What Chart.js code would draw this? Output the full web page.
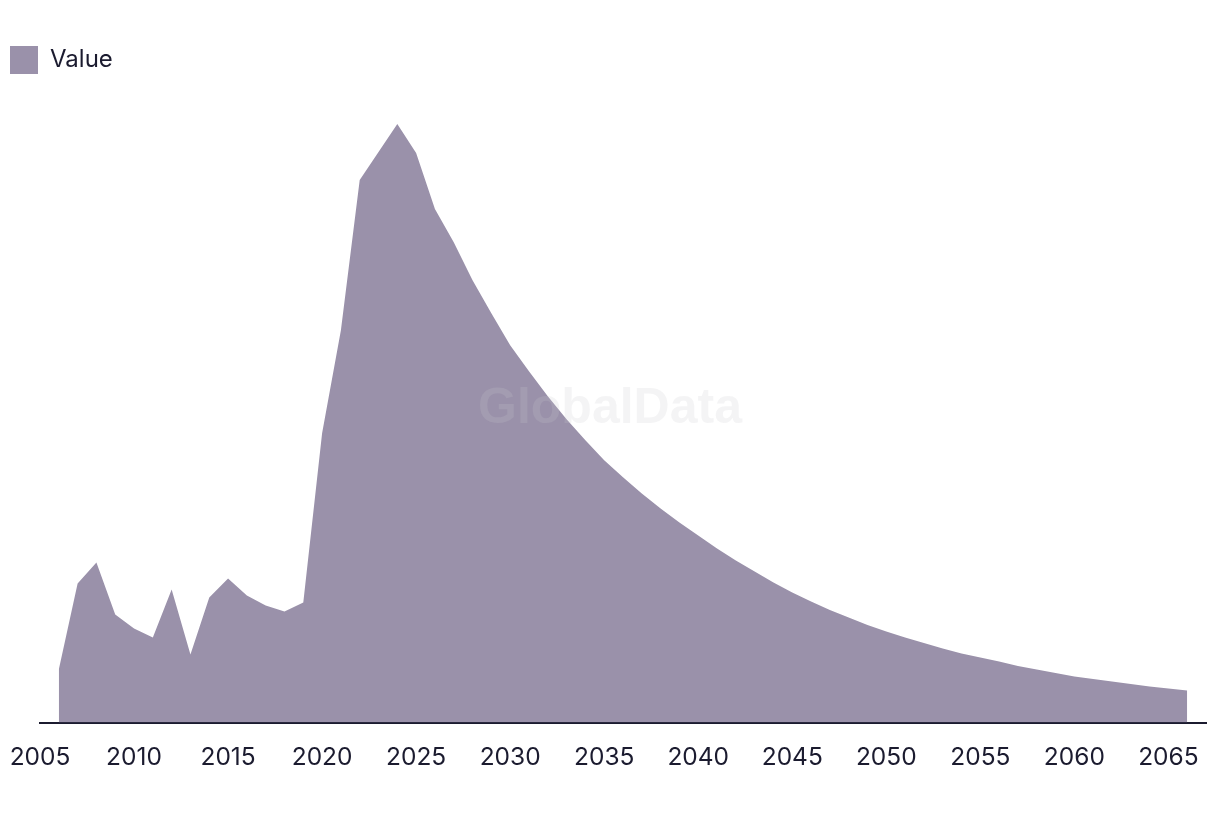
<!DOCTYPE html>
<html>
<head>
<meta charset="utf-8">
<script src="https://cdn.jsdelivr.net/npm/chart.js@4.4.1/dist/chart.umd.min.js"></script>
<style>
  html, body { margin: 0; padding: 0; background: #ffffff; }
  #wrap { position: relative; width: 1220px; height: 814px; }
  #c { display: block; }
  #wm { position: absolute; left: 0; top: 378px; width: 1220px; text-align: center;
        font-family: "Liberation Sans", Arial, sans-serif; font-weight: bold; font-size: 50px;
        color: rgba(200,200,205,0.2); pointer-events: none; line-height: 56px; }
</style>
</head>
<body>
<div id="wrap">
  <canvas id="c" width="1220" height="814"></canvas>
  <div id="wm">GlobalData</div>
</div>
<script>
const years = [2006,2007,2008,2009,2010,2011,2012,2013,2014,2015,2016,2017,2018,2019,2020,
  2021,2022,2023,2024,2025,2026,2027,2028,2029,2030,2031,2032,2033,2034,2035,2036,2037,2038,
  2039,2040,2041,2042,2043,2044,2045,2046,2047,2048,2049,2050,2051,2052,2053,2054,2055,2056,
  2057,2058,2059,2060,2061,2062,2063,2064,2065,2066];
const values = [5.3,13.9,16.0,10.8,9.4,8.5,13.3,6.8,12.5,14.4,12.7,11.7,11.1,12.0,28.9,
  39.2,54.2,57.0,59.8,56.9,51.3,48.0,44.2,40.9,37.7,35.1,32.6,30.3,28.2,26.2,24.5,22.9,21.4,
  20.0,18.7,17.4,16.2,15.1,14.0,13.0,12.1,11.25,10.5,9.75,9.1,8.5,7.95,7.4,6.9,6.5,6.1,
  5.65,5.3,4.95,4.6,4.35,4.1,3.85,3.6,3.4,3.2];
const seriesName = "Value";
const xMin = 2005, xMax = 2067, xStep = 5;
const yMax = 63.8;

const ink = "#1b1b2f";
const fillColor = "#9a91aa";
const fontFamily = "Inter, 'Liberation Sans', sans-serif";

new Chart(document.getElementById("c"), {
  type: "line",
  data: {
    datasets: [{
      label: seriesName,
      data: years.map((y, i) => ({ x: y, y: values[i] })),
      fill: "origin",
      backgroundColor: fillColor,
      borderColor: fillColor,
      borderWidth: 0,
      pointRadius: 0,
      tension: 0
    }]
  },
  options: {
    responsive: false,
    animation: false,
    layout: { padding: { top: 36, left: 0, right: 14, bottom: 22 } },
    plugins: {
      legend: {
        display: true,
        position: "top",
        align: "start",
        labels: {
          boxWidth: 28, boxHeight: 28, padding: 10,
          color: ink,
          font: { family: fontFamily, size: 24 }
        }
      },
      tooltip: { enabled: false }
    },
    scales: {
      x: {
        type: "linear",
        min: xMin, max: xMax,
        grid: { display: false, drawTicks: false },
        border: { display: true, color: ink, width: 2 },
        ticks: {
          stepSize: xStep,
          includeBounds: false,
          autoSkip: false,
          maxRotation: 0,
          padding: 20,
          color: ink,
          font: { family: fontFamily, size: 24.5 },
          callback: v => (v % 5 === 0 ? String(v) : null)
        },
        afterFit: s => { s.paddingLeft = 0; s.paddingRight = 0; }
      },
      y: {
        display: true,
        min: 0, max: yMax,
        grid: { display: false, drawTicks: false },
        border: { display: false },
        ticks: { display: false },
        afterFit: s => { s.width = 40; }
      }
    }
  }
});
</script>
</body>
</html>
